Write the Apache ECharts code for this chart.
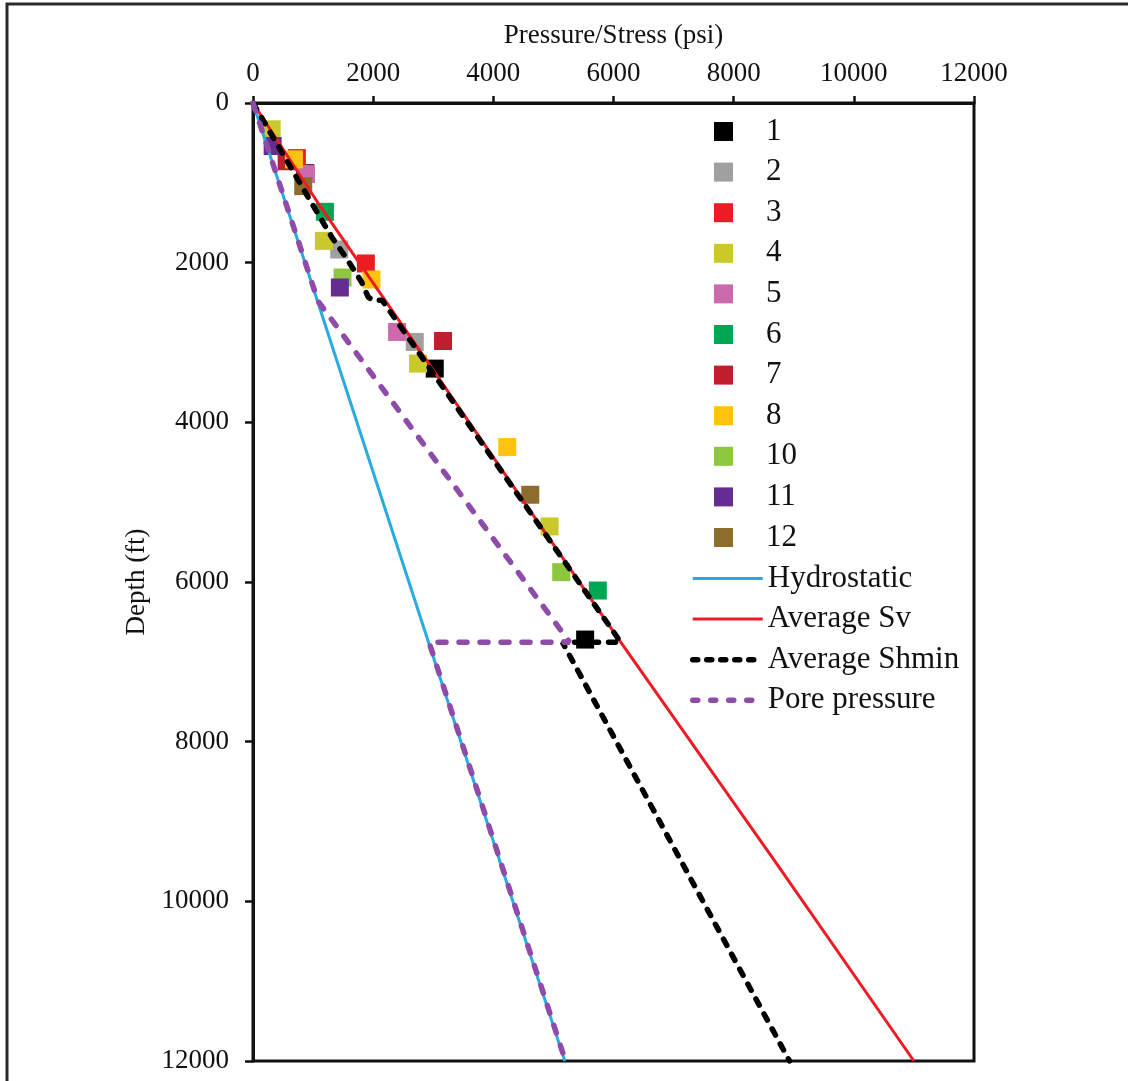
<!DOCTYPE html>
<html>
<head>
<meta charset="utf-8">
<script src="https://cdn.jsdelivr.net/npm/echarts@6/dist/echarts.min.js"></script>
<style>
html,body{margin:0;padding:0;background:#fff;}
#chart{width:1128px;height:1081px;}
</style>
</head>
<body>
<div id="chart"></div>
<script>
// [pressure psi, depth ft]
const well1 = [[870, 880], [3025, 3327], [5528, 6721]];
const well2 = [[1435, 1835], [2692, 2993]];
const well3 = [[730, 690], [1878, 2010]];
const well4 = [[310, 330], [1180, 1727], [2747, 3264], [4936, 5304]];
const well5 = [[880, 890], [2398, 2868]];
const well6 = [[1197, 1363], [5739, 6107]];
const well7 = [[560, 730], [3163, 2981]];
const well8 = [[681, 706], [1972, 2211], [4232, 4310]];
const well10 = [[1490, 2186], [5130, 5877]];
const well11 = [[327, 539], [1446, 2311]];
const well12 = [[836, 1041], [4615, 4907]];

const hydrostatic = [[0, 0], [5190, 12000]];
const averageSv = [[0, 0], [1080, 1250], [2280, 2560], [6120, 6754], [8700, 9513], [11000, 12000]];
const averageShmin = [[0, 0], [947, 1216], [1308, 1677], [1557, 1948], [1807, 2241], [1916, 2429], [1990, 2470], [2150, 2470], [6120, 6754], [5150, 6754], [8930, 12000]];
const porePressure = [[0, 0], [1080, 2480], [5270, 6754], [2930, 6754], [5200, 12000]];

const wellNames = ['1', '2', '3', '4', '5', '6', '7', '8', '10', '11', '12'];
const wellData = [well1, well2, well3, well4, well5, well6, well7, well8, well10, well11, well12];
const wellColors = ['#000000', '#A0A0A0', '#ED1C24', '#C9C92C', '#CC6AAE', '#00A651', '#BE1E2D', '#FFC20E', '#8DC63F', '#662D91', '#8C6D2C'];
const lineNames = ['Hydrostatic', 'Average Sv', 'Average Shmin', 'Pore pressure'];

const FONT = 'Liberation Serif';
const chart = echarts.init(document.getElementById('chart'));

const styles = {
  'Hydrostatic': { color: '#29ABE2', width: 3, type: 'solid', cap: 'butt', legendType: 'solid' },
  'Average Sv': { color: '#ED1C24', width: 3, type: 'solid', cap: 'butt', legendType: 'solid' },
  'Average Shmin': { color: '#000000', width: 5.5, type: [7, 10], cap: 'round', legendType: [5, 9] },
  'Pore pressure': { color: '#8E4BA8', width: 5.5, type: [8, 13], cap: 'round', legendType: [5, 13] }
};
const lineData = { 'Hydrostatic': hydrostatic, 'Average Sv': averageSv, 'Average Shmin': averageShmin, 'Pore pressure': porePressure };

const series = [];
wellNames.forEach((n, i) => {
  series.push({
    name: n, type: 'scatter', data: wellData[i], symbol: 'rect', symbolSize: 18,
    itemStyle: { color: wellColors[i], opacity: 1 }, z: 2
  });
});
lineNames.forEach(n => {
  const s = styles[n];
  series.push({
    name: n, type: 'line', data: lineData[n], symbol: 'none', showSymbol: false, z: 3,
    lineStyle: { color: s.color, width: s.width, type: s.type, cap: s.cap },
    itemStyle: { color: s.color }
  });
});

chart.setOption({
  animation: false,
  backgroundColor: '#ffffff',
  graphic: [{
    type: 'rect', z: -1, silent: true,
    shape: { x: 7, y: 4, width: 1200, height: 1200 },
    style: { fill: 'none', stroke: '#2a2a2a', lineWidth: 3 }
  }],
  grid: { left: 253, right: 154, top: 103, bottom: 20, show: true, borderColor: '#111', borderWidth: 3, backgroundColor: 'transparent' },
  legend: [{
    data: wellNames, orient: 'vertical', left: 709, top: 111,
    itemWidth: 19, itemHeight: 19, itemGap: 9.6, icon: 'rect',
    selectedMode: false,
    formatter: name => '{t|' + name + '}',
    textStyle: {
      fontFamily: FONT, fontSize: 31, color: '#111',
      rich: { t: { fontFamily: FONT, fontSize: 31, color: '#111', padding: [0, 0, 0, 28] } }
    }
  }, {
    data: lineNames.map(n => ({
      name: n,
      lineStyle: { color: styles[n].color, width: styles[n].width, type: styles[n].legendType, cap: styles[n].cap }
    })),
    orient: 'vertical', left: 685, top: 558,
    itemWidth: 70, itemHeight: 19, itemGap: 9.6,
    selectedMode: false,
    itemStyle: { opacity: 0 },
    lineStyle: { width: 'inherit' },
    textStyle: { fontFamily: FONT, fontSize: 31, color: '#111' }
  }],
  xAxis: {
    type: 'value', position: 'top', min: 0, max: 12000, interval: 2000,
    name: 'Pressure/Stress (psi)', nameLocation: 'middle', nameGap: 54,
    nameTextStyle: { fontFamily: FONT, fontSize: 27, color: '#111' },
    axisLine: { show: true, lineStyle: { color: '#111', width: 3 } },
    axisTick: { show: true, inside: false, length: 7, lineStyle: { color: '#111', width: 2.5 } },
    axisLabel: { fontFamily: FONT, fontSize: 27, color: '#111', margin: 16, formatter: v => String(v) },
    splitLine: { show: false }
  },
  yAxis: {
    type: 'value', inverse: true, min: 0, max: 12000, interval: 2000,
    name: 'Depth (ft)', nameLocation: 'middle', nameGap: 91, nameRotate: 90,
    nameTextStyle: { fontFamily: FONT, fontSize: 27, color: '#111' },
    axisLine: { show: true, lineStyle: { color: '#111', width: 3 } },
    axisTick: { show: true, inside: false, length: 8, lineStyle: { color: '#111', width: 2.5 } },
    axisLabel: { fontFamily: FONT, fontSize: 27, color: '#111', margin: 24, formatter: v => String(v) },
    splitLine: { show: false }
  },
  series: series
});
</script>
</body>
</html>
